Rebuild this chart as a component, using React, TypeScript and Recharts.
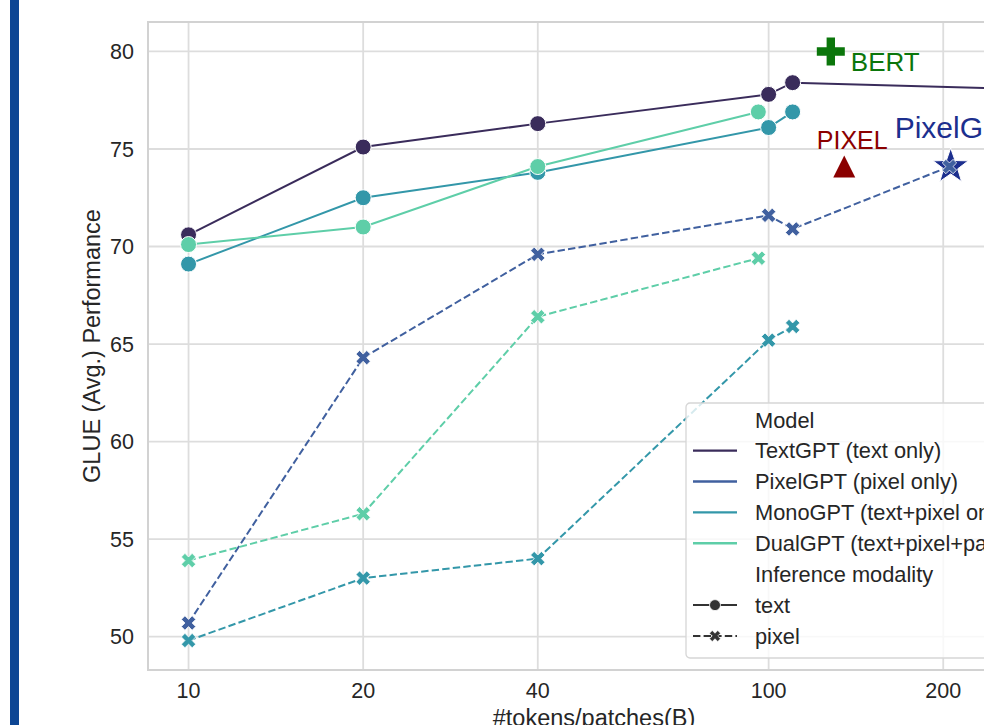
import React from "react";
import { ComposedChart, Line, Scatter, XAxis, YAxis, CartesianGrid, ReferenceArea } from "recharts";

// ---------- data ----------
const xTicks = [10, 20, 40, 100, 200];
const yTicks = [50, 55, 60, 65, 70, 75, 80];

const textGptX = [10, 20, 40, 100, 110, 250];
const textGptText = [70.6, 75.1, 76.3, 77.8, 78.4, 78.1];

const pixelGptX = [10, 20, 40, 100, 110, 205];
const pixelGptPixel = [50.7, 64.3, 69.6, 71.6, 70.9, 74.1];

const monoGptX = [10, 20, 40, 100, 110];
const monoGptText = [69.1, 72.5, 73.8, 76.1, 76.9];
const monoGptPixel = [49.8, 53.0, 54.0, 65.2, 65.9];

const dualGptX = [10, 20, 40, 96];
const dualGptText = [70.1, 71.0, 74.1, 76.9];
const dualGptPixel = [53.9, 56.3, 66.4, 69.4];

const refNames = ["BERT", "PIXEL", "PixelGPT"];
const refX = [128, 135, 206];
const refY = [80.0, 74.1, 74.1];

const modelNames = [
  "TextGPT (text only)",
  "PixelGPT (pixel only)",
  "MonoGPT (text+pixel only)",
  "DualGPT (text+pixel+pair)",
];
const modalityNames = ["text", "pixel"];

// ---------- styles ----------
const FONT = "'Liberation Sans', Arial, Helvetica, sans-serif";
const TXT = "#262626";
const C_TEXT = "#3a2c5b";
const C_PIXEL = "#40609f";
const C_MONO = "#3397a9";
const C_DUAL = "#5ecea8";
const modelColors = [C_TEXT, C_PIXEL, C_MONO, C_DUAL];
const C_BERT = "#0b760b";
const C_PIX = "#8b0000";
const C_PGPT = "#1c2f8e";
const DASH = "7.4 3.2";

const toPts = (xs: number[], ys: number[]) => xs.map((x, i) => ({ x, y: ys[i] }));

// seaborn-like 5% margins (log space on x)
const allX = [...textGptX, ...pixelGptX, ...monoGptX, ...dualGptX, ...refX];
const allY = [...textGptText, ...pixelGptPixel, ...monoGptText, ...monoGptPixel, ...dualGptText, ...dualGptPixel, ...refY];
const lx0 = Math.log10(Math.min(...allX));
const lx1 = Math.log10(Math.max(...allX));
const lpad = (lx1 - lx0) * 0.05;
const xDomain = [Math.pow(10, lx0 - lpad), Math.pow(10, lx1 + lpad)];
const y0 = Math.min(...allY);
const y1 = Math.max(...allY);
const ypad = (y1 - y0) * 0.05;
const yDomain = [y0 - ypad, y1 + ypad];

// ---------- marker shapes ----------
function plusPoints(L: number, w: number) {
  return [
    [w, L], [w, w], [L, w], [L, -w], [w, -w], [w, -L],
    [-w, -L], [-w, -w], [-L, -w], [-L, w], [-w, w], [-w, L],
  ];
}
function xPolygon(cx: number, cy: number, h: number) {
  const L = h / 0.943;
  const w = L / 3;
  const s = Math.SQRT1_2;
  return plusPoints(L, w)
    .map(([x, y]) => `${cx + (x - y) * s},${cy + (x + y) * s}`)
    .join(" ");
}
function plusPolygon(cx: number, cy: number, L: number, w: number) {
  return plusPoints(L, w).map(([x, y]) => `${cx + x},${cy + y}`).join(" ");
}
function starPolygon(cx: number, cy: number, R: number, r: number) {
  const pts: string[] = [];
  for (let i = 0; i < 10; i++) {
    const a = -Math.PI / 2 + (i * Math.PI) / 5;
    const rr = i % 2 === 0 ? R : r;
    pts.push(`${cx + rr * Math.cos(a)},${cy + rr * Math.sin(a)}`);
  }
  return pts.join(" ");
}

const circleDot = (color: string) => (props: any) => {
  const { cx, cy, index } = props;
  if (cx == null || cy == null) return <g key={index} />;
  return <circle key={index} cx={cx} cy={cy} r={8} fill={color} stroke="#ffffff" strokeWidth={1} />;
};
const xDot = (color: string) => (props: any) => {
  const { cx, cy, index } = props;
  if (cx == null || cy == null) return <g key={index} />;
  return <polygon key={index} points={xPolygon(cx, cy, 7.2)} fill={color} stroke="#ffffff" strokeWidth={0.8} />;
};

const BertShape = (props: any) => {
  const { cx, cy } = props;
  return (
    <g>
      <polygon points={plusPolygon(cx, cy, 14, 4.2)} fill={C_BERT} />
      <text x={cx + 20} y={cy + 19.5} fontSize={26} fill={C_BERT} fontFamily={FONT}>{refNames[0]}</text>
    </g>
  );
};
const PixelShape = (props: any) => {
  const { cx, cy } = props;
  return (
    <g>
      <polygon points={`${cx},${cy - 11} ${cx - 11},${cy + 11} ${cx + 11},${cy + 11}`} fill={C_PIX} />
      <text x={cx + 8} y={cy - 17.5} fontSize={25} fill={C_PIX} fontFamily={FONT} textAnchor="middle">{refNames[1]}</text>
    </g>
  );
};
const PixelGptShape = (props: any) => {
  const { cx, cy } = props;
  return (
    <g>
      <polygon points={starPolygon(cx, cy, 18.5, 7.4)} fill={C_PGPT} stroke="#ffffff" strokeWidth={1} />
      <text x={cx - 56} y={cy - 28.5} fontSize={30} fill={C_PGPT} fontFamily={FONT}>{refNames[2]}</text>
    </g>
  );
};

const YLabel = (props: any) => {
  const vb = props.viewBox || { y: 22, height: 648 };
  const cy = vb.y + vb.height / 2;
  const x = 100;
  return (
    <text x={x} y={cy} transform={`rotate(-90, ${x}, ${cy})`} textAnchor="middle" fontSize={23.5} fill={TXT} fontFamily={FONT}>
      GLUE (Avg.) Performance
    </text>
  );
};

// ---------- legend ----------
const LegendBox = () => {
  const fs = 21.8;
  const rowTop = 17.7;
  const step = 30.9;
  const hx0 = 8;
  const hx1 = 52;
  const tx = 70;
  const base = (i: number) => rowTop + i * step + 0.36 * fs;
  const cy = (i: number) => rowTop + i * step;
  return (
    <svg width={400} height={258} style={{ position: "absolute", left: 685, top: 402, zIndex: 2, overflow: "visible" }}>
      <rect x={1} y={1} width={396} height={255} rx={4} ry={4} fill="#ffffff" fillOpacity={0.8} stroke="#d6d6d6" strokeWidth={1.3} />
      <text x={tx} y={base(0)} fontSize={fs} fill={TXT} fontFamily={FONT}>Model</text>
      {modelNames.map((n, i) => (
        <g key={n}>
          <line x1={hx0} x2={hx1} y1={cy(i + 1)} y2={cy(i + 1)} stroke={modelColors[i]} strokeWidth={2.4} />
          <text x={tx} y={base(i + 1)} fontSize={fs} fill={TXT} fontFamily={FONT}>{n}</text>
        </g>
      ))}
      <text x={tx} y={base(5)} fontSize={fs} fill={TXT} fontFamily={FONT}>Inference modality</text>
      <g>
        <line x1={hx0} x2={hx1} y1={cy(6)} y2={cy(6)} stroke="#333333" strokeWidth={2} />
        <circle cx={(hx0 + hx1) / 2} cy={cy(6)} r={5.5} fill="#333333" stroke="#ffffff" strokeWidth={0.8} />
        <text x={tx} y={base(6)} fontSize={fs} fill={TXT} fontFamily={FONT}>{modalityNames[0]}</text>
      </g>
      <g>
        <line x1={hx0} x2={hx1} y1={cy(7)} y2={cy(7)} stroke="#333333" strokeWidth={2} strokeDasharray={DASH} />
        <polygon points={xPolygon((hx0 + hx1) / 2, cy(7), 5.5)} fill="#333333" stroke="#ffffff" strokeWidth={0.6} />
        <text x={tx} y={base(7)} fontSize={fs} fill={TXT} fontFamily={FONT}>{modalityNames[1]}</text>
      </g>
    </svg>
  );
};

export default function App() {
  const tick = { fontSize: 21.5, fill: TXT, fontFamily: FONT };
  return (
    <div style={{ position: "fixed", left: 0, top: 0, width: 984, height: 725, overflow: "hidden", background: "#ffffff" }}>
      <div style={{ position: "absolute", left: 10, top: 0, width: 8.5, height: 725, background: "#0d4694" }} />
      <div style={{ position: "absolute", left: 0, top: 0 }}>
        <ComposedChart width={1060} height={725} margin={{ top: 22, right: 20, bottom: 0, left: 0 }}>
          <CartesianGrid stroke="#dddddd" strokeWidth={1.8} />
          <ReferenceArea x1={xDomain[0]} x2={xDomain[1]} y1={yDomain[0]} y2={yDomain[1]} fill="none" stroke="#d2d2d2" strokeWidth={2} fillOpacity={0} ifOverflow="visible" />
          <XAxis
            dataKey="x"
            type="number"
            scale="log"
            domain={xDomain}
            allowDataOverflow
            ticks={xTicks}
            interval={0}
            height={55}
            axisLine={false}
            tickLine={false}
            tickSize={0}
            tickMargin={13}
            tick={tick}
            label={{ value: "#tokens/patches(B)", position: "insideBottom", offset: -1, fontSize: 23.5, fill: TXT, fontFamily: FONT }}
          />
          <YAxis
            dataKey="y"
            type="number"
            domain={yDomain}
            allowDataOverflow
            ticks={yTicks}
            interval={0}
            width={148}
            axisLine={false}
            tickLine={false}
            tickSize={0}
            tickMargin={14}
            tick={tick}
            label={<YLabel />}
          />
          <Scatter data={[{ x: refX[2], y: refY[2] }]} shape={PixelGptShape} isAnimationActive={false} legendType="none" />
          <Line data={toPts(textGptX, textGptText)} dataKey="y" type="linear" stroke={C_TEXT} strokeWidth={2} dot={circleDot(C_TEXT)} activeDot={false} isAnimationActive={false} legendType="none" />
          <Line data={toPts(pixelGptX, pixelGptPixel)} dataKey="y" type="linear" stroke={C_PIXEL} strokeWidth={2} strokeDasharray={DASH} dot={xDot(C_PIXEL)} activeDot={false} isAnimationActive={false} legendType="none" />
          <Line data={toPts(monoGptX, monoGptText)} dataKey="y" type="linear" stroke={C_MONO} strokeWidth={2} dot={circleDot(C_MONO)} activeDot={false} isAnimationActive={false} legendType="none" />
          <Line data={toPts(monoGptX, monoGptPixel)} dataKey="y" type="linear" stroke={C_MONO} strokeWidth={2} strokeDasharray={DASH} dot={xDot(C_MONO)} activeDot={false} isAnimationActive={false} legendType="none" />
          <Line data={toPts(dualGptX, dualGptText)} dataKey="y" type="linear" stroke={C_DUAL} strokeWidth={2} dot={circleDot(C_DUAL)} activeDot={false} isAnimationActive={false} legendType="none" />
          <Line data={toPts(dualGptX, dualGptPixel)} dataKey="y" type="linear" stroke={C_DUAL} strokeWidth={2} strokeDasharray={DASH} dot={xDot(C_DUAL)} activeDot={false} isAnimationActive={false} legendType="none" />
          <Scatter data={[{ x: refX[0], y: refY[0] }]} shape={BertShape} isAnimationActive={false} legendType="none" />
          <Scatter data={[{ x: refX[1], y: refY[1] }]} shape={PixelShape} isAnimationActive={false} legendType="none" />
        </ComposedChart>
      </div>
      <LegendBox />
    </div>
  );
}
